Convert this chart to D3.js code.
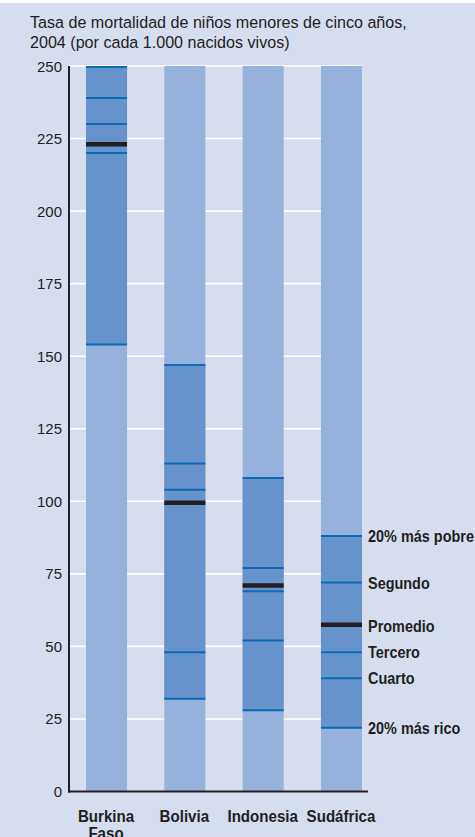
<!DOCTYPE html>
<html><head><meta charset="utf-8">
<script src="https://cdn.jsdelivr.net/npm/d3@7"></script>
<style>
html,body{margin:0;padding:0;background:#fff;}
svg{display:block;}
</style></head>
<body>
<script>
const countries = ["Burkina Faso", "Bolivia", "Indonesia", "Sudáfrica"];
const countryLines = [["Burkina", "Faso"], ["Bolivia"], ["Indonesia"], ["Sudáfrica"]];
const poorest = [250, 147, 108, 88];
const second  = [239, 113, 77, 72];
const third   = [230, 104, 69, 48];
const fourth  = [220, 48, 52, 39];
const richest = [154, 32, 28, 22];
const average = [223, 99.5, 71, 57.5];
const yTicks = [0, 25, 50, 75, 100, 125, 150, 175, 200, 225, 250];
const legendLabels = ["20% más pobre", "Segundo", "Promedio", "Tercero", "Cuarto", "20% más rico"];
const titleLines = ["Tasa de mortalidad de niños menores de cinco años,", "2004 (por cada 1.000 nacidos vivos)"];

const W = 475, H = 837;
const FONT = "'Liberation Sans',Arial,sans-serif";
const INK = "#231f20";
const svg = d3.select("body").append("svg").attr("width", W).attr("height", H);
svg.append("rect").attr("width", W).attr("height", H).attr("fill", "#d5ddef");
svg.append("rect").attr("width", W).attr("height", 3).attr("fill", "#ffffff");

const y = d3.scaleLinear().domain([0, 250]).range([791.5, 66]);
const x = d3.scaleBand().domain(countries).range([69, 379]).paddingInner(0.476).paddingOuter(0.217);

// measure helper for condensed look
function measure(str, size, weight) {
  const t = svg.append("text").attr("font-family", FONT).attr("font-size", size)
    .attr("font-weight", weight).text(str);
  const w = t.node().getComputedTextLength();
  t.remove();
  return w;
}
function placeText(parent, str, px, py, size, weight, anchor, sx) {
  parent.append("g").attr("transform", `translate(${px},${py}) scale(${sx},1)`)
    .append("text").attr("font-family", FONT).attr("font-size", size).attr("font-weight", weight)
    .attr("text-anchor", anchor).attr("fill", INK).text(str);
}

// title
const titleSize = 16.5;
const sxTitle = 377 / measure(titleLines[0], titleSize, "normal");
const gTitle = svg.append("g");
titleLines.forEach((s, i) => placeText(gTitle, s, 30, 28 + i * 20, titleSize, "normal", "start", sxTitle));

// gridlines
svg.append("g").selectAll("line").data(yTicks.filter(t => t > 0)).join("line")
  .attr("x1", 69).attr("x2", 362).attr("y1", d => y(d)).attr("y2", d => y(d))
  .attr("stroke", "#ffffff").attr("stroke-width", 1.6);

// y tick labels
const tickSize = 15.5;
const sxTick = 25 / measure("250", tickSize, "normal");
const gTicks = svg.append("g");
yTicks.forEach(t => placeText(gTicks, String(t), 62, y(t) + 5.5, tickSize, "normal", "end", sxTick));

// full bars
const bars = svg.append("g");
bars.selectAll("rect.bg").data(countries).join("rect").attr("class", "bg")
  .attr("x", d => x(d)).attr("width", x.bandwidth())
  .attr("y", y(250)).attr("height", y(0) - y(250)).attr("fill", "#95b1dc");
// quintile range
bars.selectAll("rect.rng").data(countries).join("rect").attr("class", "rng")
  .attr("x", d => x(d)).attr("width", x.bandwidth())
  .attr("y", (d, i) => y(poorest[i])).attr("height", (d, i) => y(richest[i]) - y(poorest[i]))
  .attr("fill", "#6693cb");

const quint = [poorest, second, third, fourth, richest];
quint.forEach(arr => {
  bars.append("g").selectAll("line").data(countries).join("line")
    .attr("x1", d => x(d)).attr("x2", d => x(d) + x.bandwidth())
    .attr("y1", (d, i) => y(arr[i]) + (arr[i] >= 250 ? 1 : 0))
    .attr("y2", (d, i) => y(arr[i]) + (arr[i] >= 250 ? 1 : 0))
    .attr("stroke", "#0b6ab5").attr("stroke-width", 2);
});
bars.append("g").selectAll("line").data(countries).join("line")
  .attr("x1", d => x(d)).attr("x2", d => x(d) + x.bandwidth())
  .attr("y1", (d, i) => y(average[i])).attr("y2", (d, i) => y(average[i]))
  .attr("stroke", INK).attr("stroke-width", 4.5);

// axes
svg.append("line").attr("x1", 69).attr("x2", 69).attr("y1", y(250)).attr("y2", y(0) + 1)
  .attr("stroke", INK).attr("stroke-width", 2);
svg.append("line").attr("x1", 68).attr("x2", 368).attr("y1", y(0)).attr("y2", y(0))
  .attr("stroke", INK).attr("stroke-width", 2);

// x labels
const xSize = 16.5;
const sxX = 70.5 / measure("Indonesia", xSize, "bold");
const gX = svg.append("g");
countries.forEach((c, i) => {
  countryLines[i].forEach((s, j) => placeText(gX, s, x(c) + x.bandwidth() / 2 - 0.5, 821.5 + j * 17, xSize, "bold", "middle", sxX));
});

// legend labels (aligned with Sudáfrica's lines)
const last = countries.length - 1;
const legendVals = [poorest[last], second[last], average[last], third[last], fourth[last], richest[last]];
const legSize = 16.5;
const sxLeg = 106 / measure(legendLabels[0], legSize, "bold");
const gLeg = svg.append("g");
legendLabels.forEach((s, i) => placeText(gLeg, s, 368, y(legendVals[i]) + 6 + (i === 2 ? 1.5 : 0), legSize, "bold", "start", sxLeg));
</script>
</body></html>
